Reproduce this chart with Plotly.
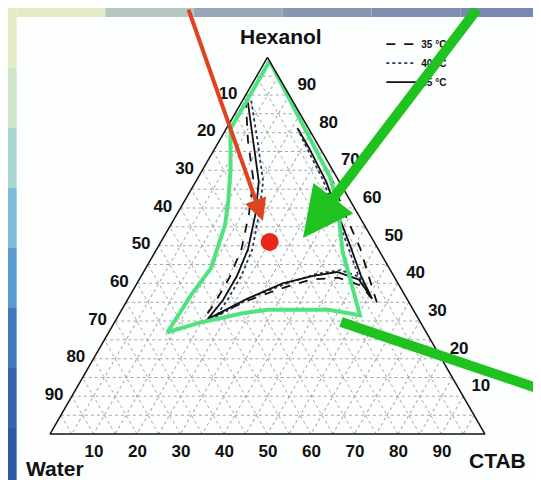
import plotly.graph_objects as go

# ---------------- data (percent) ----------------
temps = ["35 °C", "40 °C", "45 °C"]
components = ["Hexanol", "Water", "CTAB"]

# 35 °C boundary (dashed)
hex_35   = [89, 78, 67.5, 58.5, 49, 41.5, 35, 29.5, 35, 38.5, 41, 41.5, 39.5, 34.5, 41, 49.5, 58.5, 67, 76, 82]
ctab_35  = [0.5, 6.5, 13, 16.5, 19.5, 20.5, 20.5, 20, 27, 33.5, 39.5, 45.5, 51.5, 58, 53, 46.5, 38.5, 31.5, 23, 17]
water_35 = [10.5, 15.5, 19.5, 25, 31.5, 38, 44.5, 50.5, 38, 28, 19.5, 13, 9, 7.5, 6, 4, 3, 1.5, 1, 1]

# 40 °C boundary (dotted)
hex_40   = [88.5, 77.5, 67, 58, 49, 42, 35.5, 31, 36.5, 40, 42.5, 43.5, 42, 37, 42.5, 50.5, 59, 67.5, 76, 81.5]
ctab_40  = [2, 9, 15.5, 19, 22, 23, 23, 22.5, 28.5, 34.5, 40, 45, 49.5, 55, 49.5, 43, 36, 29, 21, 16]
water_40 = [9.5, 13.5, 17.5, 23, 29, 35, 41.5, 46.5, 35, 25.5, 17.5, 11.5, 8.5, 8, 8, 6.5, 5, 3.5, 3, 2.5]

# 45 °C boundary (solid)
hex_45   = [88, 77.5, 67, 58.5, 49, 42, 35.5, 30.5, 36, 40, 42, 43, 41, 36, 42, 50, 59, 67, 76, 81]
ctab_45  = [1.5, 8, 14.5, 18, 21, 22, 22, 21, 27.5, 33.5, 39.5, 44.5, 50.5, 56, 50.5, 44, 36.5, 30, 21.5, 16.5]
water_45 = [10.5, 14.5, 18.5, 23.5, 30, 36, 42.5, 48.5, 36.5, 26.5, 18.5, 12.5, 8.5, 8, 7.5, 6, 4.5, 3, 2.5, 2.5]

# hand-drawn green region outline
hex_green   = [99, 81, 70, 62, 55.5, 44, 37, 27, 29.5, 32, 33, 33, 31.5, 39, 48.5, 62, 68.5, 99]
ctab_green  = [1, 1, 6.5, 10, 12.5, 15, 14, 13.5, 19.5, 28, 33.5, 47.5, 55.5, 50, 43, 35, 30, 1]
water_green = [0, 18, 23.5, 28, 32, 41, 49, 59.5, 51, 40, 33.5, 19.5, 13, 11, 8.5, 3, 1.5, 0]

# red point
hex_dot, ctab_dot, water_dot = [51], [25], [24]

# tick values (grid every 5, labels every 10)
tick_vals = list(range(5, 100, 5))
tick_text = [str(100 - v) if v % 10 == 0 else "" for v in tick_vals]

fig = go.Figure()

styles = [("dash", "#111111"), ("dot", "#2a3560"), ("solid", "#111111")]
for name, h, c, w, (dash, col) in zip(temps,
                                      [hex_35, hex_40, hex_45],
                                      [ctab_35, ctab_40, ctab_45],
                                      [water_35, water_40, water_45],
                                      styles):
    fig.add_trace(go.Scatterternary(a=h, b=w, c=c, mode="lines", name=name,
                                    line=dict(color=col, width=1.8, dash=dash)))

fig.add_trace(go.Scatterternary(a=hex_green, b=water_green, c=ctab_green, mode="lines",
                                line=dict(color="#50e27e", width=4), showlegend=False))
fig.add_trace(go.Scatterternary(a=hex_dot, b=water_dot, c=ctab_dot, mode="markers",
                                marker=dict(color="#e8261c", size=18), showlegend=False))

def ax(ticklen):
    return dict(tickmode="array", tickvals=tick_vals, ticktext=tick_text,
                ticks="outside", ticklen=ticklen, tickcolor="rgba(0,0,0,0)",
                showline=True, linecolor="#111111", linewidth=1.5,
                showgrid=True, gridcolor="#a6a6a6", gridwidth=1, griddash="dot",
                title=dict(text=""),
                tickfont=dict(family="Liberation Sans", size=17, color="#111111", weight="bold"))

fig.update_layout(
    width=541, height=480,
    margin=dict(l=0, r=0, t=0, b=0),
    paper_bgcolor="#fdfefe",
    ternary=dict(sum=100, bgcolor="rgba(0,0,0,0)",
                 domain=dict(x=[0.0776, 0.8817], y=[0.1125, 0.8973]),
                 aaxis=ax(5), baxis=ax(1), caxis=ax(10)),
    legend=dict(x=0.69, y=0.955, xanchor="left", yanchor="top",
                bgcolor="rgba(0,0,0,0)", itemwidth=30, tracegroupgap=0,
                font=dict(family="Liberation Sans", size=10, color="#111111", weight="bold")),
    showlegend=True,
)

# corner (component) labels
title_pos = [(0.5046, 0.94), (0.0869, 0.041), (0.9057, 0.058)]
for name, (tx, ty) in zip(components, title_pos):
    fig.add_annotation(xref="paper", yref="paper", x=tx, y=ty, text=name, showarrow=False,
                       xanchor="center", yanchor="middle",
                       font=dict(family="Liberation Sans", size=21, color="#111111", weight="bold"))

# slide background bands (decoration)
left_cols = ["#e4eec4", "#cfe6c8", "#a8d6d4", "#7cbcd8", "#5a9acd", "#4079bd", "#3464b0", "#2f58a6"]
for i, col in enumerate(left_cols):
    fig.add_shape(type="rect", xref="paper", yref="paper", layer="below",
                  x0=0, x1=0.016, y0=1 - (i + 1) / len(left_cols), y1=1 - i / len(left_cols),
                  fillcolor=col, line=dict(width=0))
top_cols = ["#e2ecc4", "#b6c8c0", "#98a8b8", "#8896b2", "#7e8eb0", "#7888b0"]
for i, col in enumerate(top_cols):
    fig.add_shape(type="rect", xref="paper", yref="paper", layer="below",
                  x0=0.016 + i * (0.984 / len(top_cols)), x1=0.016 + (i + 1) * (0.984 / len(top_cols)),
                  y0=0.981, y1=1.0, fillcolor=col, line=dict(width=0))

# pointer arrows (overlay)
red_head = (0.4713, 0.5563); red_tail = (-75, -218)
green_head = (0.5453, 0.5208); green_tail = (175, -235)
green_line = (0.6155, 0.3458, 1.01, 0.196)

fig.add_annotation(xref="paper", yref="paper", x=red_head[0], y=red_head[1],
                   ax=red_tail[0], ay=red_tail[1], text="", showarrow=True,
                   arrowhead=2, arrowsize=1.1, arrowwidth=4, arrowcolor="#e0431f")
fig.add_annotation(xref="paper", yref="paper", x=green_head[0], y=green_head[1],
                   ax=green_tail[0], ay=green_tail[1], text="", showarrow=True,
                   arrowhead=2, arrowsize=1, arrowwidth=10, arrowcolor="#1fc21f")
fig.add_shape(type="line", xref="paper", yref="paper",
              x0=green_line[0], y0=green_line[1], x1=green_line[2], y1=green_line[3],
              line=dict(color="#1fc21f", width=10))

fig.write_html("out.html")
